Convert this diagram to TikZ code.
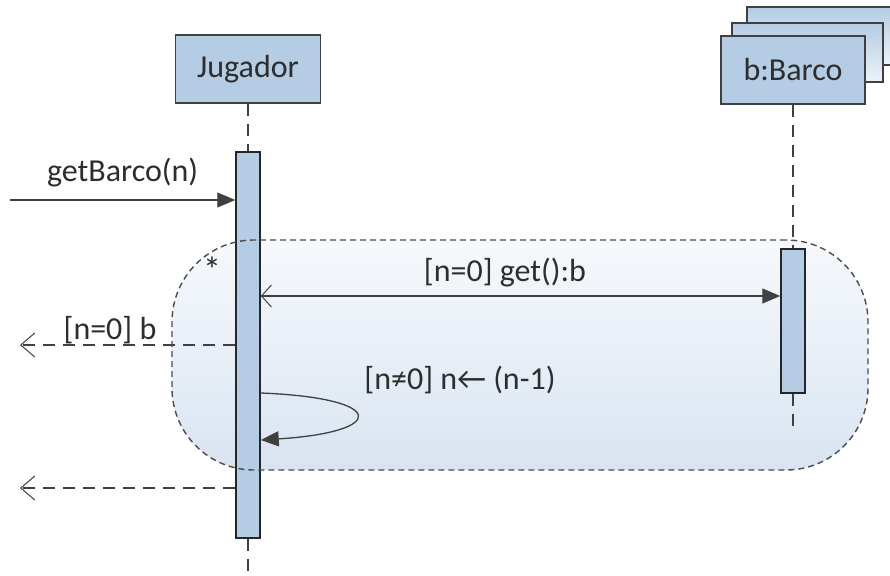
\documentclass[tikz,border=0pt]{standalone}
\usepackage{fontspec}
\setmainfont{Carlito}
\usetikzlibrary{arrows.meta,positioning,calc}

\definecolor{objblue}{RGB}{180,204,228}
\definecolor{linegray}{RGB}{64,64,64}
\definecolor{txtgray}{RGB}{45,45,45}
\definecolor{looptop}{RGB}{246,249,252}
\definecolor{loopbot}{RGB}{217,228,241}

\tikzset{
  objbox/.style={draw=linegray, line width=1.6pt, fill=objblue,
    minimum width=145pt, minimum height=68pt, text=txtgray,
    font=\fontsize{32}{38}\selectfont},
  stackbox/.style={draw=linegray, line width=1.6pt,
    top color=objblue, bottom color=objblue!25, inner sep=0pt},
  actbar/.style={draw=black!85, line width=1.5pt, fill=objblue,
    minimum width=24pt, inner sep=0pt},
  lifeline/.style={draw=linegray, line width=1.3pt, dash pattern=on 12pt off 8pt},
  loopgeom/.style={rectangle, rounded corners=82pt, minimum width=696pt,
    minimum height=230pt, inner sep=0pt},
  loopfill/.style={loopgeom, top color=looptop, bottom color=loopbot},
  loopline/.style={loopgeom, draw=black!70, line width=1.4pt,
    dash pattern=on 6pt off 4pt},
  msg/.style={draw=linegray, line width=1.3pt, -{Triangle[length=18pt,width=15pt]}},
  reply/.style={draw=linegray, line width=1.2pt, dash pattern=on 12pt off 8pt,
    -{Straight Barb[length=14pt,width=24pt,line width=1pt]}},
  lbl/.style={font=\fontsize{32}{38}\selectfont, text=txtgray, inner sep=0pt}
}

\begin{document}
\begin{tikzpicture}[x=1pt,y=-1pt]
    \useasboundingbox (0,0) rectangle (890,575);

    % loop frame, fill first
    \node[loopfill] (loop) at (520,355) {};

    % lifeline heads
    \node[objbox] (jug) at (248,69) {Jugador};
    \node[stackbox, minimum width=158pt, minimum height=58pt] (stack2) at (826,36) {};
    \node[stackbox, minimum width=151pt, minimum height=59pt] (stack1) at (807.5,52.5) {};
    \node[objbox, minimum width=144pt] (barco) at (793,70) {b:Barco};

    % activation bars
    \node[actbar, minimum height=386pt] (jugbar) at (248,345) {};
    \node[actbar, minimum height=144pt] (barbar) at (793,321) {};

    % lifelines
    \coordinate (jugend) at (248,575);
    \coordinate (barend) at (793,432);
    \draw[lifeline] (jug.south) -- (jugbar.north);
    \draw[lifeline] (jugbar.south) -- (jugend);
    \draw[lifeline] (barco.south) -- (barbar.north);
    \draw[lifeline] (barbar.south) -- (barend);

    % loop border on top
    \node[loopline] (loopedge) at (loop) {};
    \node[lbl, font=\fontsize{36}{40}\selectfont] (star) at (212,270) {*};

    % messages
    \coordinate (gin) at (10,200);
    \draw[msg] (gin) -- (gin -| jugbar.west)
        node[lbl, midway, above=12pt] (getlbl) {getBarco(n)};

    \coordinate (ycall) at (0,296);
    \draw[msg, {Straight Barb[length=10pt,width=22pt,line width=1pt]}-{Triangle[length=18pt,width=15pt]}]
        (jugbar.east |- ycall) -- (barbar.west |- ycall)
        node[lbl, pos=0.47, above=8pt] (calllbl) {[n=0] get():b};

    \coordinate (yret) at (0,345);
    \coordinate (retend) at (20,345);
    \draw[reply] (jugbar.west |- yret) -- (retend);
    \node[lbl, anchor=base] (retlbl) at (110,339) {[n=0] b};

    \coordinate (yself) at (0,393);
    \coordinate (yback) at (0,440);
    \draw[msg] (jugbar.east |- yself) .. controls (388,398) and (388,432) .. (jugbar.east |- yback);
    \node[lbl, anchor=base] (selflbl) at (460,389) {[n≠0] n← (n-1)};

    \coordinate (yend) at (0,488);
    \coordinate (endret) at (20,488);
    \draw[reply] (jugbar.west |- yend) -- (endret);
\end{tikzpicture}
\end{document}
